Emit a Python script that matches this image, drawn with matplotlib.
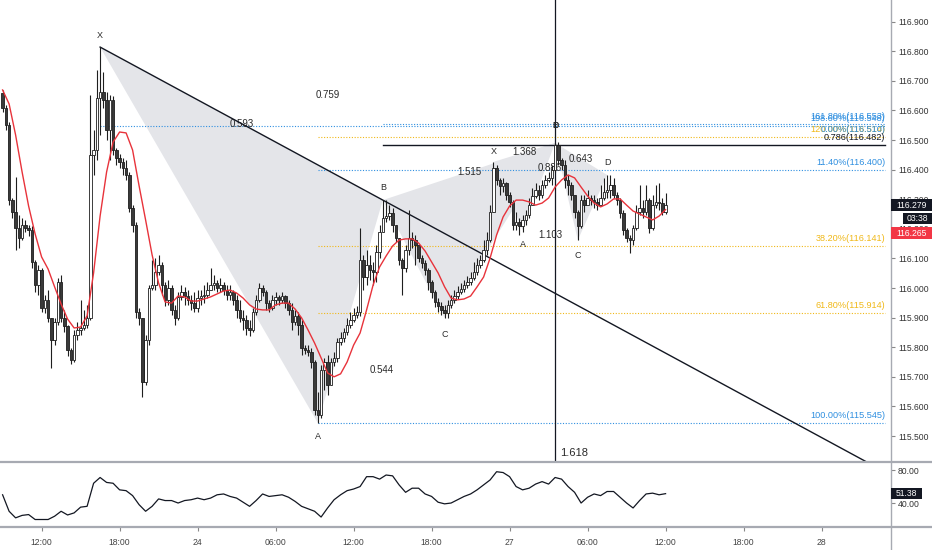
"""
plot.py
USDJPY-style 15 min chart with two XABCD patterns, fib levels and RSI panel
"""

import numpy as np
import matplotlib
matplotlib.use("Agg")
import matplotlib.pyplot as plt
from matplotlib.lines import Line2D
from matplotlib.patches import Rectangle, Polygon
from matplotlib.transforms import IdentityTransform

plt.rcParams['font.family'] = ['Liberation Sans', 'DejaVu Sans']

# time axis: trading hours counted from the 23rd 00:00, weekend removed
START_H = 9.0
STEP_H = 0.25

open_first = 116.659

closes = [
    116.608, 116.551, 116.297, 116.257, 116.203, 116.169, 116.213, 116.203, 116.196, 116.088,
    116.010, 116.061, 115.932, 115.960, 115.899, 115.824, 115.885, 116.020, 115.899, 115.872,
    115.791, 115.757, 115.841, 115.858, 115.865, 115.875, 115.899, 116.449, 116.466, 116.642,
    116.662, 116.635, 116.534, 116.635, 116.466, 116.439, 116.426, 116.405, 116.382, 116.270,
    116.213, 115.919, 115.899, 115.683, 115.824, 116.000, 116.010, 116.054, 116.078, 116.010,
    115.960, 116.000, 115.926, 115.899, 115.970, 115.987, 115.973, 115.960, 115.949, 115.932,
    115.966, 115.973, 115.976, 115.993, 116.010, 116.017, 116.000, 116.010, 115.993, 115.976,
    115.987, 115.960, 115.926, 115.899, 115.892, 115.865, 115.858, 115.919, 115.960, 116.000,
    115.987, 115.949, 115.932, 115.960, 115.970, 115.960, 115.973, 115.949, 115.926, 115.885,
    115.906, 115.875, 115.797, 115.791, 115.784, 115.750, 115.588, 115.571, 115.723, 115.750,
    115.673, 115.750, 115.764, 115.818, 115.831, 115.851, 115.875, 115.892, 115.909, 115.919,
    116.095, 116.037, 116.078, 116.061, 116.054, 116.122, 116.189, 116.237, 116.243, 116.254,
    116.213, 116.169, 116.095, 116.068, 116.128, 116.169, 116.162, 116.145, 116.101, 116.085,
    116.061, 116.020, 115.987, 115.953, 115.939, 115.926, 115.916, 115.943, 115.960, 115.973,
    115.987, 115.997, 116.010, 116.020, 116.034, 116.054, 116.078, 116.095, 116.128, 116.162,
    116.257, 116.405, 116.365, 116.345, 116.355, 116.314, 116.291, 116.213, 116.223, 116.210,
    116.230, 116.247, 116.280, 116.311, 116.331, 116.314, 116.348, 116.365, 116.372, 116.399,
    116.483, 116.432, 116.416, 116.365, 116.348, 116.314, 116.257, 116.210, 116.297, 116.280,
    116.304, 116.297, 116.291, 116.280, 116.304, 116.324, 116.331, 116.348, 116.314, 116.297,
    116.254, 116.196, 116.169, 116.162, 116.203, 116.257, 116.270, 116.257, 116.297, 116.203,
    116.280, 116.291, 116.287, 116.257, 116.279,
]

highs = [
    116.669, 116.618, 116.560, 116.304, 116.375, 116.247, 116.237, 116.230, 116.213, 116.210,
    116.095, 116.078, 116.068, 115.976, 115.993, 115.899, 115.899, 116.034, 116.044, 115.926,
    115.875, 115.797, 115.858, 115.885, 115.960, 115.926, 115.943, 116.652, 116.534, 116.737,
    116.814, 116.730, 116.662, 116.652, 116.649, 116.473, 116.453, 116.439, 116.432, 116.392,
    116.280, 116.223, 115.932, 115.899, 115.841, 116.010, 116.095, 116.101, 116.112, 116.088,
    116.020, 116.027, 116.010, 115.943, 115.987, 116.010, 116.004, 115.993, 115.976, 115.987,
    115.993, 115.993, 116.010, 116.020, 116.068, 116.044, 116.027, 116.034, 116.020, 116.010,
    116.010, 115.993, 115.976, 115.960, 115.926, 115.909, 115.892, 115.932, 115.976, 116.017,
    116.010, 115.993, 115.960, 115.976, 115.987, 115.976, 115.987, 115.976, 115.960, 115.949,
    115.926, 115.919, 115.892, 115.807, 115.807, 115.797, 115.757, 115.649, 115.740, 115.764,
    115.774, 115.764, 115.784, 115.831, 115.851, 115.865, 115.899, 115.919, 115.932, 115.939,
    116.203, 116.112, 116.128, 116.112, 116.088, 116.145, 116.213, 116.297, 116.297, 116.280,
    116.270, 116.203, 116.169, 116.101, 116.145, 116.264, 116.189, 116.179, 116.145, 116.112,
    116.095, 116.068, 116.027, 115.993, 115.966, 115.953, 115.943, 115.960, 115.976, 115.993,
    116.007, 116.017, 116.027, 116.041, 116.054, 116.088, 116.101, 116.112, 116.162, 116.189,
    116.280, 116.426, 116.416, 116.372, 116.372, 116.358, 116.324, 116.297, 116.257, 116.237,
    116.247, 116.264, 116.304, 116.338, 116.355, 116.348, 116.365, 116.382, 116.392, 116.416,
    116.490, 116.493, 116.439, 116.432, 116.382, 116.358, 116.314, 116.264, 116.314, 116.314,
    116.331, 116.314, 116.314, 116.304, 116.348, 116.372, 116.382, 116.382, 116.372, 116.324,
    116.304, 116.264, 116.203, 116.179, 116.213, 116.280, 116.348, 116.297, 116.348, 116.304,
    116.314, 116.348, 116.355, 116.304, 116.321,
]

lows = [
    116.595, 116.534, 116.280, 116.237, 116.128, 116.135, 116.162, 116.189, 116.176, 116.068,
    115.987, 115.976, 115.919, 115.916, 115.885, 115.730, 115.807, 115.875, 115.885, 115.851,
    115.770, 115.743, 115.750, 115.824, 115.841, 115.858, 115.865, 115.892, 116.382, 116.432,
    116.517, 116.608, 116.500, 116.432, 116.449, 116.416, 116.405, 116.382, 116.365, 116.257,
    116.189, 115.899, 115.875, 115.632, 115.673, 115.807, 115.993, 115.993, 116.044, 115.976,
    115.939, 115.943, 115.909, 115.875, 115.892, 115.960, 115.943, 115.943, 115.926, 115.919,
    115.919, 115.943, 115.949, 115.966, 115.993, 115.993, 115.987, 115.987, 115.976, 115.960,
    115.960, 115.943, 115.899, 115.885, 115.858, 115.841, 115.838, 115.851, 115.909, 115.953,
    115.973, 115.926, 115.919, 115.926, 115.943, 115.943, 115.949, 115.932, 115.909, 115.858,
    115.875, 115.841, 115.774, 115.777, 115.770, 115.730, 115.571, 115.544, 115.561, 115.656,
    115.639, 115.673, 115.737, 115.750, 115.807, 115.818, 115.841, 115.865, 115.885, 115.899,
    115.906, 115.993, 116.010, 116.027, 116.010, 116.020, 116.101, 116.196, 116.223, 116.230,
    116.189, 116.156, 116.078, 115.976, 116.054, 116.112, 116.135, 116.078, 116.088, 116.068,
    116.044, 115.993, 115.966, 115.936, 115.919, 115.909, 115.899, 115.899, 115.932, 115.949,
    115.963, 115.980, 115.987, 116.000, 116.010, 116.027, 116.044, 116.068, 116.088, 116.112,
    116.156, 116.257, 116.348, 116.314, 116.324, 116.297, 116.274, 116.196, 116.196, 116.179,
    116.189, 116.213, 116.237, 116.280, 116.304, 116.297, 116.304, 116.338, 116.358, 116.348,
    116.392, 116.416, 116.399, 116.338, 116.314, 116.297, 116.237, 116.162, 116.203, 116.257,
    116.280, 116.280, 116.270, 116.264, 116.277, 116.297, 116.304, 116.304, 116.304, 116.280,
    116.237, 116.179, 116.156, 116.118, 116.145, 116.196, 116.247, 116.237, 116.247, 116.186,
    116.196, 116.270, 116.264, 116.247, 116.250,
]

# red moving average and RSI, read every second candle (30 min)
ma_values = [
    116.669, 116.622, 116.517, 116.392, 116.277, 116.183, 116.105, 116.064, 116.004, 115.946,
    115.895, 115.865, 115.868, 115.906, 116.051, 116.243, 116.392, 116.493, 116.527, 116.524,
    116.466, 116.345, 116.230, 116.112, 116.017, 115.953, 115.949, 115.973, 115.970, 115.956,
    115.956, 115.963, 115.970, 115.980, 115.990, 115.993, 115.983, 115.966, 115.943, 115.929,
    115.926, 115.926, 115.943, 115.949, 115.949, 115.929, 115.899, 115.858, 115.814, 115.764,
    115.713, 115.700, 115.710, 115.750, 115.807, 115.848, 115.926, 116.010, 116.071, 116.108,
    116.142, 116.162, 116.166, 116.166, 116.152, 116.125, 116.088, 116.051, 116.004, 115.966,
    115.960, 115.963, 115.973, 116.004, 116.037, 116.101, 116.179, 116.240, 116.277, 116.297,
    116.297, 116.291, 116.280, 116.287, 116.304, 116.341, 116.365, 116.382, 116.372, 116.341,
    116.311, 116.287, 116.274, 116.284, 116.301, 116.301, 116.280, 116.260, 116.250, 116.240,
    116.230, 116.243, 116.265,
]

rsi_values = [
    50, 30, 22, 25, 26, 20, 20, 20, 24, 30,
    25.5, 28, 35, 36, 64, 71, 65, 64, 56, 55,
    49, 38, 30, 36, 45, 43, 43, 40, 43, 44,
    46, 44, 46, 50, 51, 48, 46, 41, 36, 43,
    51, 48, 49, 50, 47, 42, 36, 33, 30, 23,
    34, 44, 50, 55, 57, 60, 72, 72, 69, 74,
    73, 62, 53, 58, 58, 51, 48, 41, 39, 40,
    44, 48, 51, 56, 62, 68, 78, 77, 72, 60,
    56, 58, 63, 66, 63, 71, 69, 60, 53, 40,
    47, 51, 49, 54, 54, 47, 40, 34, 43, 51,
    52, 50, 51.38,
]

tick_hours = [12, 18, 24, 30, 36, 42, 48, 54, 60, 66, 72]
tick_labels = ['12:00', '18:00', '24', '06:00', '12:00', '18:00', '27',
               '06:00', '12:00', '18:00', '28']
price_ticks = [115.5, 115.6, 115.7, 115.8, 115.9, 116.0, 116.1, 116.2,
               116.3, 116.4, 116.5, 116.6, 116.7, 116.8, 116.9]
rsi_ticks = [40, 80]

# XABCD patterns: (hour, price) of X, A, B, C, D
pat1_t = [16.5, 33.25, 38.25, 43.0, 51.5]
pat1_p = [116.814, 115.544, 116.297, 115.899, 116.490]
pat1_ratios = ['0.593', '0.544', '1.515', '0.759']   # XB, AC, BD, XD
pat2_t = [46.75, 49.0, 51.5, 53.25, 55.5]
pat2_p = [116.426, 116.196, 116.490, 116.162, 116.382]
pat2_ratios = ['1.368', '1.103', '0.643', '0.886']

# fib / level lines
fib_prices = [116.553, 116.548, 116.510, 116.482, 116.400, 116.141, 115.914, 115.545]
fib_start = [38.25, 16.5, 33.25, 38.25, 33.25, 33.25, 33.25, 33.25]
fib_kind = ['blue', 'blue', 'yellow', 'black', 'blue', 'yellow', 'yellow', 'blue']
label_text = ['161.80%(116.553)', '198.60%(116.548)', '120.00%(116.514)', '0.00%(116.510)',
              '0.786(116.482)', '11.40%(116.400)', '38.20%(116.141)', '61.80%(115.914)',
              '100.00%(115.545)']
label_price = [116.553, 116.548, 116.510, 116.510, 116.482, 116.400, 116.141, 115.914, 115.545]
label_kind = ['blue', 'blue', 'yellow', 'blue', 'black', 'blue', 'yellow', 'yellow', 'blue']
FIB_END = 76.88
VLINE_LABEL = '1.618'

COLORS = {'blue': '#2f8fe0', 'yellow': '#f0b818', 'black': '#131722'}
AXIS_GREY = '#a7aab2'
TEXT = '#2a2a2a'


def draw_pattern(ax, pts_t, pts_p, ratios, offsets):
    # the two filled triangles X-A-B and B-C-D
    for idx in ([0, 1, 2], [2, 3, 4]):
        tri = Polygon([(pts_t[i], pts_p[i]) for i in idx], closed=True,
                      facecolor='#e4e5e9', edgecolor='none', zorder=1)
        ax.add_patch(tri)
    for name, t, p, dy in zip('XABCD', pts_t, pts_p, offsets):
        ax.annotate(name, (t, p), xytext=(0, dy), textcoords='offset pixels',
                    ha='center', va='center', fontsize=6.5, color=TEXT, zorder=7)
    # ratio labels sit at the middle of XB, AC, BD, XD
    for (a, b), txt in zip([(0, 2), (1, 3), (2, 4), (0, 4)], ratios):
        ax.text((pts_t[a] + pts_t[b]) / 2, (pts_p[a] + pts_p[b]) / 2, txt,
                ha='center', va='center', fontsize=7, color=TEXT, zorder=3)


def side_box(fig, ax, value, text, bg, x0, w, h=12, dy=0):
    y = ax.transData.transform((0, value))[1] + dy
    fig.add_artist(Rectangle((x0, y - h / 2), w, h, transform=IdentityTransform(),
                             facecolor=bg, edgecolor='none', zorder=20))
    fig.text(x0 + w / 2, y, text, transform=IdentityTransform(), ha='center',
             va='center', fontsize=6.2, color='white', zorder=21)


fig = plt.figure(figsize=(9.32, 5.5), dpi=100)
W, H = 932, 550
ax = fig.add_axes([0, (H - 462) / H, 891 / W, 462 / H])
ax_rsi = fig.add_axes([0, (H - 527) / H, 891 / W, 65 / H], sharex=ax)

# candles
n = len(closes)
t = START_H + STEP_H * np.arange(n)
c = np.array(closes)
o = np.r_[open_first, c[:-1]]
hi = np.maximum(np.array(highs), np.maximum(o, c))
lo = np.minimum(np.array(lows), np.minimum(o, c))
up = c >= o
body_low = np.minimum(o, c)
body_h = np.maximum(np.abs(c - o), 0.0025)

ax.vlines(t, lo, hi, color='#1e1e1e', linewidth=0.8, zorder=4)
ax.bar(t[up], body_h[up], bottom=body_low[up], width=0.19, facecolor='white',
       edgecolor='#1e1e1e', linewidth=0.6, zorder=5)
ax.bar(t[~up], body_h[~up], bottom=body_low[~up], width=0.19, facecolor='#3a3a3a',
       edgecolor='#1e1e1e', linewidth=0.6, zorder=5)

t_half = START_H + 2 * STEP_H * np.arange(len(ma_values))
ax.plot(t_half, ma_values, color='#e8333b', linewidth=1.0, zorder=6)

# patterns
draw_pattern(ax, pat1_t, pat1_p, pat1_ratios, [12, -14, 13, -17, 17])
draw_pattern(ax, pat2_t, pat2_p, pat2_ratios, [10, -15, 17, -15, 12])

# trend line through X and B of the first pattern
slope = (pat1_p[2] - pat1_p[0]) / (pat1_t[2] - pat1_t[0])
t_far = 80
ax.plot([pat1_t[0], t_far], [pat1_p[0], pat1_p[0] + slope * (t_far - pat1_t[0])],
        color='#131722', linewidth=1.0, zorder=3)

# vertical line at D / B
ax.axvline(pat1_t[4], color='#131722', linewidth=0.9, zorder=3)

# fib levels
for p, t0, kind in zip(fib_prices, fib_start, fib_kind):
    if kind == 'black':
        ax.plot([t0, FIB_END], [p, p], color=COLORS[kind], linewidth=1.0, zorder=2)
    else:
        ax.plot([t0, FIB_END], [p, p], color=COLORS[kind], linewidth=0.8,
                linestyle=(0, (1, 1.5)), zorder=2)
for txt, p, kind in zip(label_text, label_price, label_kind):
    ax.annotate(txt, (FIB_END, p), xytext=(0, 3), textcoords='offset pixels',
                ha='right', va='bottom', fontsize=6.6, color=COLORS[kind], zorder=8)

ylim = (115.4122, 116.973)
ax.set_xlim(8.8, 77.34)
ax.set_ylim(*ylim)
ax.annotate(VLINE_LABEL, (pat1_t[4], ylim[0]), xytext=(5, 4), textcoords='offset pixels',
            ha='left', va='bottom', fontsize=8, color=TEXT)

ax.set_yticks(price_ticks)
ax.set_yticklabels([f'{v:.3f}' for v in price_ticks])
ax.yaxis.tick_right()
ax.tick_params(axis='y', right=True, left=False, length=3, width=0.8, color='#888888',
               pad=2, labelsize=6.2, labelcolor='#333333')
ax.tick_params(axis='x', bottom=False, labelbottom=False)

# RSI panel
ax_rsi.plot(t_half, rsi_values, color='#131722', linewidth=0.9)
ax_rsi.set_ylim(10.9, 89.8)
ax_rsi.set_yticks(rsi_ticks)
ax_rsi.set_yticklabels([f'{v:.2f}' for v in rsi_ticks])
ax_rsi.yaxis.tick_right()
ax_rsi.tick_params(axis='y', right=True, left=False, length=3, width=0.8, color='#888888',
                   pad=2, labelsize=6.2, labelcolor='#333333')
ax_rsi.set_xticks(tick_hours)
ax_rsi.set_xticklabels(tick_labels)
ax_rsi.tick_params(axis='x', length=3, width=0.8, color='#888888', pad=5,
                   labelsize=6.2, labelcolor='#444444')

for a in (ax, ax_rsi):
    for s in a.spines.values():
        s.set_visible(False)

# panel borders
fig.add_artist(Line2D([0, 1], [(H - 462) / H] * 2, color=AXIS_GREY, linewidth=1.6,
                      transform=fig.transFigure))
fig.add_artist(Line2D([0, 1], [(H - 527) / H] * 2, color=AXIS_GREY, linewidth=1.6,
                      transform=fig.transFigure))
fig.add_artist(Line2D([891 / W] * 2, [0, 1], color=AXIS_GREY, linewidth=1.0,
                      transform=fig.transFigure))

# last value boxes on the price scale
side_box(fig, ax, closes[-1], f'{closes[-1]:.3f}', '#131722', 891, 41)
side_box(fig, ax, closes[-1], '03:38', '#131722', 903, 29, h=11, dy=-13)
side_box(fig, ax, ma_values[-1], f'{ma_values[-1]:.3f}', '#f23645', 891, 41, dy=-23.5)
side_box(fig, ax_rsi, rsi_values[-1], f'{rsi_values[-1]:.2f}', '#131722', 891, 31, h=11)

fig.savefig('out.png', dpi=100)
